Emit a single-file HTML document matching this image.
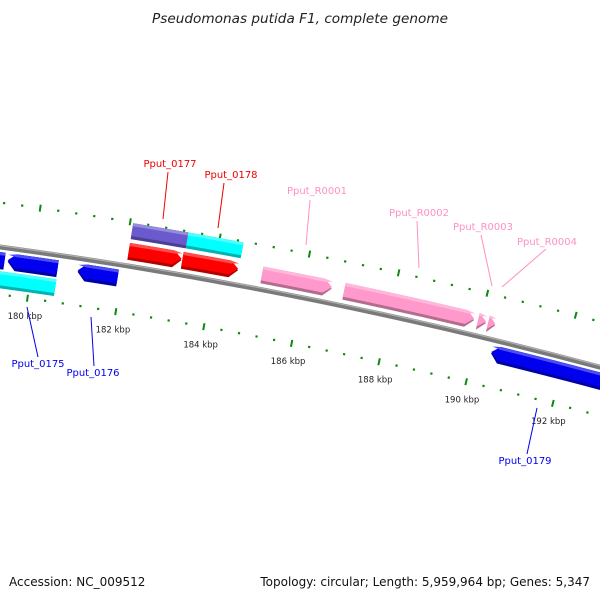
<!DOCTYPE html>
<html><head><meta charset="utf-8"><title>Pseudomonas putida F1 genome map</title>
<style>html,body{margin:0;padding:0;background:#fff}svg{display:block}text{font-family:"DejaVu Sans","Liberation Sans",sans-serif}</style>
</head><body>
<svg id="map" width="600" height="600" viewBox="0 0 600 600" xmlns="http://www.w3.org/2000/svg">
<text x="300" y="23" text-anchor="middle" font-size="13" font-style="italic" fill="#222" textLength="296" lengthAdjust="spacingAndGlyphs">Pseudomonas putida F1, complete genome</text>
<g id="ticks"></g>
<g id="backbone"></g>
<g id="features"></g>
<g id="labels"></g>
<text x="9" y="586" font-size="12" fill="#111">Accession: NC_009512</text>
<text x="590" y="586" text-anchor="end" font-size="12" fill="#111">Topology: circular; Length: 5,959,964 bp; Genes: 5,347</text>
</svg>
<script>
// data (kbp)
const featNames = ["Pput_0174","Pput_0175","Pput_0175_cog","Pput_0176","Pput_0177_cog","Pput_0178_cog","Pput_0177","Pput_0178","Pput_R0001","Pput_R0002","Pput_R0003","Pput_R0004","Pput_0179"];
const featStart = [178.3,179.45,179.2,181.02,182.07,183.3,182.07,183.27,185.06,186.91,189.94,190.17,190.39];
const featEnd   = [179.38,180.57,180.58,181.92,183.3,184.53,183.25,184.52,186.63,189.85,190.12,190.33,193.5];
const featStrand = [-1,-1,0,-1,0,0,1,1,1,1,1,1,-1];
const featRow = ["rev1","rev1","rev2","rev1","fwd2","fwd2","fwd1","fwd1","fwd1","fwd1","fwd1","fwd1","rev1"];
const featColor = ["#0000ee","#0000ee","#00ffff","#0000ee","#6a5acd","#00ffff","#ff0000","#ff0000","#ff99cc","#ff99cc","#ff99cc","#ff99cc","#0000ee"];
const tickLabels = [180,182,184,186,188,190,192];
const tickStartKbp = 176, tickEndKbp = 196, minorStep = 0.4, majorStep = 2;

// geometry / axis
const CX=-641, CY=5004, R=4800;
const theta0=0.1975, ref=186, dTheta=0.0094;
function ang(k){return theta0+(k-ref)*dTheta;}
function pt(k,r){const a=ang(k);return [CX+r*Math.sin(a), CY-r*Math.cos(a)];}
const rows={fwd1:[R+6,R+23],fwd2:[R+27,R+43],rev1:[R-22,R-5],rev2:[R-41,R-24]};
const NS="http://www.w3.org/2000/svg";
function mk(tag,attrs,parent){const e=document.createElementNS(NS,tag);for(const k in attrs)e.setAttribute(k,attrs[k]);parent.appendChild(e);return e;}
function f(p){return p[0].toFixed(2)+","+p[1].toFixed(2);}
function shade(hex,amt){const n=parseInt(hex.slice(1),16);let r=n>>16,g=(n>>8)&255,b=n&255;
 const m=c=>Math.max(0,Math.min(255,Math.round(amt>0?c+(255-c)*amt:c*(1+amt))));return "rgb("+m(r)+","+m(g)+","+m(b)+")";}

// backbone
const bb=document.getElementById('backbone');
const b1=pt(170,R),b2=pt(200,R);
let e=mk('path',{d:"M"+f(b1)+" A"+R+","+R+" 0 0 1 "+f(b2),stroke:"#7a7a7a","stroke-width":5,fill:"none"},bb);


e=mk('path',{d:"M"+f(pt(170,R+1.5))+" A"+(R+1.5)+","+(R+1.5)+" 0 0 1 "+f(pt(200,R+1.5)),stroke:"#b0b0b0","stroke-width":1.2,fill:"none"},bb);



// ticks
const tg=document.getElementById('ticks');
const rings=[{r:4844,name:'outer'},{r:4753,name:'inner'}];
for(const ring of rings){
 const n=Math.round((tickEndKbp-tickStartKbp)/minorStep);
 for(let i=0;i<=n;i++){
  const k=tickStartKbp+i*minorStep;
  const major=Math.abs(k/majorStep-Math.round(k/majorStep))<1e-6;
  const half=major?3.5:1.1;
  const p1=pt(k,ring.r-half),p2=pt(k,ring.r+half);
  const l=mk('line',{x1:p1[0],y1:p1[1],x2:p2[0],y2:p2[1],stroke:"#0b8a0b","stroke-width":major?2:2.2},tg);
  
  
 }
}
for(const k of tickLabels){
 const p=pt(k,4735);
 const t=mk('text',{x:p[0],y:p[1]+3,"text-anchor":"middle","font-size":"8.5",fill:"#222"},tg);
 t.textContent=k+" kbp";
 
 
}

// features
const fg=document.getElementById('features');
function arcPath(s,en,r0,r1,strand){
 const head=0.18;let d;
 if(strand===1){const bEnd=Math.max(s,en-head);
  d="M"+f(pt(s,r1))+" A"+r1+","+r1+" 0 0 1 "+f(pt(bEnd,r1))+" L"+f(pt(en,(r0+r1)/2))+" L"+f(pt(bEnd,r0))+" A"+r0+","+r0+" 0 0 0 "+f(pt(s,r0))+" Z";}
 else if(strand===-1){const bS=Math.min(en,s+head);
  d="M"+f(pt(s,(r0+r1)/2))+" L"+f(pt(bS,r1))+" A"+r1+","+r1+" 0 0 1 "+f(pt(en,r1))+" L"+f(pt(en,r0))+" A"+r0+","+r0+" 0 0 0 "+f(pt(bS,r0))+" Z";}
 else{d="M"+f(pt(s,r1))+" A"+r1+","+r1+" 0 0 1 "+f(pt(en,r1))+" L"+f(pt(en,r0))+" A"+r0+","+r0+" 0 0 0 "+f(pt(s,r0))+" Z";}
 return d;}
for(let i=0;i<featNames.length;i++){
 const [r0,r1]=rows[featRow[i]];
 const g=mk('g',{},fg);
 
 
 mk('path',{d:arcPath(featStart[i],featEnd[i],r0,r1,featStrand[i]),fill:shade(featColor[i],-0.3)},g);
 mk('path',{d:arcPath(featStart[i],featEnd[i],r0+3,r1,featStrand[i]),fill:featColor[i]},g);
 mk('path',{d:arcPath(featStart[i],featEnd[i],r1-3,r1,featStrand[i]===0?0:featStrand[i]),fill:shade(featColor[i],0.3)},g);
}

// labels
const labText=["Pput_0177","Pput_0178","Pput_R0001","Pput_R0002","Pput_R0003","Pput_R0004","Pput_0175","Pput_0176","Pput_0179"];
const labColor=["#ee0000","#ee0000","#ff8fc4","#ff8fc4","#ff8fc4","#ff8fc4","#0000ee","#0000ee","#0000ee"];
const labXY=[[170,167],[231,178],[317,194],[419,216],[483,230],[547,245],[38,367],[93,376],[525,464]];
const labLine=[[168,172,163,219],[224,183,218,228],[310,200,306,245],[417,221,419,268],[481,235,492,286],[546,249,502,287],[38,357,27,307],[94,366,91,317],[527,454,537,408]];
const lg=document.getElementById('labels');
for(let i=0;i<labText.length;i++){
 const L=labLine[i];
 const ln=mk('line',{x1:L[0],y1:L[1],x2:L[2],y2:L[3],stroke:labColor[i],"stroke-width":1},lg);
 
 
 const t=mk('text',{x:labXY[i][0],y:labXY[i][1],"text-anchor":"middle","font-size":"10",fill:labColor[i]},lg);
 t.textContent=labText[i];
 
 
}
</script>
</body></html>
